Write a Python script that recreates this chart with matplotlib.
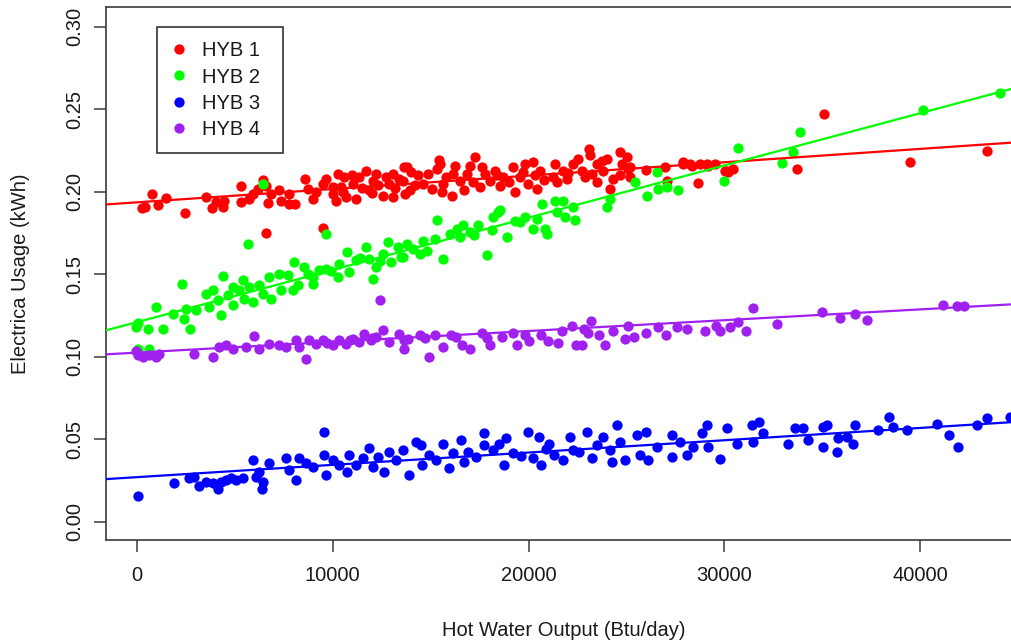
import matplotlib
matplotlib.use("Agg")
import matplotlib.pyplot as plt

plt.rcParams['font.family'] = ['Liberation Sans', 'DejaVu Sans']

series_names = ["HYB 1", "HYB 2", "HYB 3", "HYB 4"]
series_colors = ["#FF0000", "#00FF00", "#0000FF", "#A020F0"]

# Daily hot water output (Btu/day) and electrical usage (kWh) per unit
hyb1_x = [750, 430, 255, 1090, 1480, 2450, 3500, 3830, 4030, 4370, 4440, 5310, 5310,
          5910, 5720, 6160, 6450, 6590, 6670, 6840, 7270, 7350, 7780, 7780, 8080, 8600,
          8720, 8970, 9140, 9480, 9650, 9990, 10250, 10420, 10590, 10160, 10670, 11020,
          11180, 11350, 11700, 11860, 12040, 12210, 12550, 12880, 13060, 13390, 13650,
          13060, 13770, 13600, 13940, 13690, 14370, 14620, 14880, 15050, 15300, 15440,
          15470, 15640, 15560, 16070, 16160, 16240, 16500, 16840, 17010, 17260, 17180,
          17520, 17770, 18030, 18280, 18540, 18710, 19220, 19300, 19560, 19810, 19980,
          20240, 20330, 20410, 20580, 21260, 21350, 21430, 21770, 21940, 22280, 22540,
          22710, 22880, 23100, 23130, 23220, 23470, 23730, 23810, 24150, 24320, 24670,
          24750, 25010, 25180, 25180, 26960, 27900, 28240, 28670, 29090, 27050, 6590,
          9480, 28750, 29180, 30030, 30200, 30450, 33690, 35100, 39480, 43390, 27900,
          28330, 25090, 24670, 29520, 30110, 10000, 10500, 11000, 11500, 12000, 12300,
          12700, 13200, 14000, 14200, 15800, 16700, 17600, 18400, 19000, 19700, 20800,
          22000, 23500, 24000, 26000]
hyb1_y = [0.1987, 0.1906, 0.1900, 0.1916, 0.1964, 0.1870, 0.1970, 0.1898, 0.1936, 0.1906,
          0.1946, 0.2037, 0.1940, 0.1987, 0.1958, 0.2017, 0.2070, 0.2037, 0.1930, 0.1987,
          0.2007, 0.1946, 0.1987, 0.1926, 0.1922, 0.2077, 0.2017, 0.1956, 0.1996, 0.2047,
          0.2077, 0.1987, 0.2108, 0.2027, 0.2087, 0.1946, 0.1966, 0.2047, 0.1956, 0.2087,
          0.2128, 0.2007, 0.2067, 0.2108, 0.1976, 0.2047, 0.1966, 0.2077, 0.2148, 0.2108,
          0.2148, 0.2067, 0.2007, 0.1987, 0.2098, 0.2047, 0.2108, 0.2017, 0.2138, 0.2192,
          0.2168, 0.2047, 0.1996, 0.1976, 0.2108, 0.2158, 0.2067, 0.2108, 0.2158, 0.2208,
          0.2057, 0.2027, 0.2108, 0.2067, 0.2128, 0.2037, 0.2087, 0.2148, 0.1996, 0.2087,
          0.2168, 0.2047, 0.2178, 0.2098, 0.2017, 0.2128, 0.2087, 0.2168, 0.2057, 0.2128,
          0.2077, 0.2168, 0.2198, 0.2128, 0.2087, 0.2259, 0.2219, 0.2108, 0.2168, 0.2188,
          0.2128, 0.2017, 0.2077, 0.2239, 0.2168, 0.2208, 0.2148, 0.2087, 0.2152, 0.2168,
          0.2168, 0.2051, 0.2168, 0.2067, 0.1748, 0.1781, 0.2168, 0.2158, 0.2128, 0.2118,
          0.2138, 0.2138, 0.2471, 0.2178, 0.2249, 0.2178, 0.2158, 0.2138, 0.2098, 0.2168,
          0.2128, 0.2030, 0.2000, 0.2100, 0.2020, 0.1990, 0.2040, 0.2090, 0.2020, 0.2120,
          0.2040, 0.2090, 0.2010, 0.2150, 0.2100, 0.2060, 0.2120, 0.2070, 0.2110, 0.2060,
          0.2200, 0.2130]

hyb2_x = [30, -50, 550, 970, 1310, 1820, 2300, 2500, 2420, 2710, 3010, 3520, 3860, 3690,
          4120, 4380, 4290, 4630, 4890, 4890, 5230, 5400, 5480, 5650, 5730, 5910, 6250,
          6420, 6760, 6850, 7270, 7350, 7700, 8030, 7950, 8210, 8540, 8720, 8970, 9310,
          9650, 10250, 10330, 10750, 10840, 11180, 11700, 11860, 12040, 12210, 12550,
          12800, 12970, 13310, 13480, 6450, 9650, 35, 630, 13770, 14110, 14450, 13600,
          14790, 15300, 15220, 15640, 15990, 16330, 16500, 16670, 17010, 17430, 17860,
          18110, 18200, 18450, 18880, 18540, 19560, 19810, 20240, 20410, 20670, 20840,
          20920, 21350, 21430, 21770, 21860, 22280, 22370, 23990, 24150, 25430, 26030,
          26540, 26620, 27050, 27640, 29990, 30670, 32920, 33510, 33860, 40160, 44070,
          9000, 9900, 11400, 12400, 14600, 17200, 19300]
hyb2_y = [0.1206, 0.1179, 0.1169, 0.1300, 0.1169, 0.1260, 0.1442, 0.1290, 0.1230, 0.1169,
          0.1280, 0.1377, 0.1401, 0.1300, 0.1341, 0.1486, 0.1250, 0.1371, 0.1311, 0.1421,
          0.1401, 0.1462, 0.1351, 0.1684, 0.1421, 0.1331, 0.1432, 0.1381, 0.1482, 0.1351,
          0.1502, 0.1401, 0.1492, 0.1573, 0.1401, 0.1432, 0.1542, 0.1502, 0.1442, 0.1522,
          0.1533, 0.1482, 0.1563, 0.1633, 0.1512, 0.1583, 0.1663, 0.1593, 0.1472, 0.1542,
          0.1623, 0.1694, 0.1573, 0.1663, 0.1603, 0.2049, 0.1745, 0.1048, 0.1048, 0.1684,
          0.1654, 0.1623, 0.1603, 0.1643, 0.1825, 0.1714, 0.1593, 0.1745, 0.1775, 0.1724,
          0.1795, 0.1754, 0.1795, 0.1613, 0.1765, 0.1845, 0.1875, 0.1724, 0.1886, 0.1815,
          0.1845, 0.1775, 0.1835, 0.1926, 0.1775, 0.1745, 0.1946, 0.1875, 0.1946, 0.1845,
          0.1906, 0.1825, 0.1906, 0.1956, 0.2057, 0.1976, 0.2118, 0.2017, 0.2027, 0.2007,
          0.2067, 0.2263, 0.2174, 0.2239, 0.2360, 0.2495, 0.2598,
          0.1480, 0.1520, 0.1600, 0.1580, 0.1700, 0.1740, 0.1820]

hyb3_x = [30, 1910, 2640, 2930, 3180, 3520, 3860, 4120, 4290, 4540, 4800, 5060, 5400,
          5910, 6080, 6250, 6420, 6390, 6760, 7610, 7780, 8120, 8290, 8630, 8970, 9570,
          9570, 9650, 9990, 10330, 10840, 10750, 11180, 11520, 11860, 12040, 12630, 12880,
          13230, 13570, 13900, 14240, 14500, 14580, 14920, 15260, 15610, 15950, 16120,
          16550, 16710, 17310, 17740, 17740, 18170, 18510, 18760, 18850, 19190, 19950,
          20210, 20550, 20640, 21060, 21310, 21770, 22110, 22280, 22960, 23220, 23470,
          23810, 24150, 24240, 24520, 24670, 24920, 25520, 25690, 25990, 26110, 26540,
          27310, 27310, 27730, 28070, 28410, 28840, 29090, 29180, 29790, 30120, 30630,
          31400, 31480, 31790, 31990, 33240, 33600, 34030, 34280, 35050, 35050, 35220,
          35730, 35820, 36240, 36580, 36670, 37860, 38400, 38630, 39310, 40840, 41480,
          41940, 42880, 43420, 44580, 12300, 16900, 19600, 20900, 22600]
hyb3_y = [0.0154, 0.0235, 0.0261, 0.0271, 0.0215, 0.0241, 0.0231, 0.0195, 0.0241, 0.0251,
          0.0261, 0.0251, 0.0261, 0.0372, 0.0271, 0.0302, 0.0241, 0.0195, 0.0356, 0.0383,
          0.0312, 0.0251, 0.0383, 0.0352, 0.0332, 0.0544, 0.0403, 0.0281, 0.0372, 0.0342,
          0.0403, 0.0302, 0.0342, 0.0383, 0.0443, 0.0332, 0.0302, 0.0423, 0.0372, 0.0433,
          0.0281, 0.0483, 0.0463, 0.0342, 0.0403, 0.0372, 0.0473, 0.0322, 0.0413, 0.0493,
          0.0362, 0.0392, 0.0534, 0.0463, 0.0433, 0.0473, 0.0342, 0.0504, 0.0413, 0.0544,
          0.0383, 0.0514, 0.0342, 0.0473, 0.0403, 0.0372, 0.0514, 0.0433, 0.0544, 0.0383,
          0.0463, 0.0514, 0.0433, 0.0362, 0.0584, 0.0483, 0.0372, 0.0524, 0.0403, 0.0544,
          0.0372, 0.0453, 0.0524, 0.0392, 0.0483, 0.0403, 0.0453, 0.0534, 0.0584, 0.0453,
          0.0377, 0.0564, 0.0473, 0.0584, 0.0483, 0.0604, 0.0534, 0.0473, 0.0564, 0.0564,
          0.0493, 0.0453, 0.0574, 0.0584, 0.0423, 0.0504, 0.0514, 0.0473, 0.0584, 0.0554,
          0.0634, 0.0574, 0.0554, 0.0594, 0.0524, 0.0453, 0.0584, 0.0625, 0.0634,
          0.0390, 0.0420, 0.0400, 0.0440, 0.0420]

hyb4_x = [-50, 30, 290, 630, 970, 1130, 2930, 3860, 4200, 4540, 4890, 5990, 5570, 6250,
          6760, 7270, 7610, 8120, 8290, 8630, 8800, 9140, 9480, 9990, 10330, 10670, 11020,
          11350, 11610, 11950, 12210, 12550, 12430, 12880, 13390, 13650, 13630, 13830,
          14430, 14930, 15230, 15630, 16030, 16620, 17020, 17620, 18020, 18620, 19220,
          19420, 20010, 20610, 21010, 21510, 21710, 22210, 22410, 22710, 22810, 23210,
          23010, 23600, 23900, 24300, 24900, 25100, 25400, 26000, 26600, 27000, 27590,
          28090, 28990, 29590, 29790, 30290, 30690, 31090, 31480, 32680, 34980, 35880,
          36670, 37270, 41160, 41860, 42260, 9700, 10900, 12000, 14700, 16300, 17900,
          19800]
hyb4_y = [0.1031, 0.1008, 0.0998, 0.1008, 0.0998, 0.1018, 0.1018, 0.0998, 0.1058, 0.1068,
          0.1048, 0.1125, 0.1058, 0.1048, 0.1079, 0.1068, 0.1058, 0.1099, 0.1058, 0.0988,
          0.1099, 0.1079, 0.1099, 0.1068, 0.1099, 0.1079, 0.1109, 0.1089, 0.1139, 0.1099,
          0.1119, 0.1159, 0.1341, 0.1089, 0.1139, 0.1099, 0.1047, 0.1106, 0.1129, 0.0999,
          0.1129, 0.1059, 0.1129, 0.1070, 0.1047, 0.1141, 0.1070, 0.1117, 0.1141, 0.1070,
          0.1094, 0.1129, 0.1094, 0.1082, 0.1153, 0.1188, 0.1070, 0.1070, 0.1165, 0.1217,
          0.1141, 0.1129, 0.1070, 0.1153, 0.1106, 0.1188, 0.1117, 0.1141, 0.1177, 0.1129,
          0.1177, 0.1165, 0.1153, 0.1188, 0.1153, 0.1177, 0.1212, 0.1153, 0.1295, 0.1200,
          0.1271, 0.1236, 0.1260, 0.1224, 0.1312, 0.1307, 0.1307, 0.1080, 0.1100, 0.1110,
          0.1110, 0.1120, 0.1110, 0.1130]

# Least-squares fit coefficients (intercept, slope) for each unit
fit_intercepts = [0.1935, 0.1209, 0.0269, 0.1024]
fit_slopes = [8.1e-7, 3.166e-6, 7.46e-7, 6.55e-7]

xs = [hyb1_x, hyb2_x, hyb3_x, hyb4_x]
ys = [hyb1_y, hyb2_y, hyb3_y, hyb4_y]

x_ticks = [0, 10000, 20000, 30000, 40000]
y_ticks = [0.00, 0.05, 0.10, 0.15, 0.20, 0.25, 0.30]

W, H = 1012, 644
fig = plt.figure(figsize=(W / 100, H / 100), dpi=100)
ax_l, ax_r, ax_t, ax_b = 106, 1022, 6.7, 540
ax = fig.add_axes([ax_l / W, 1 - ax_b / H, (ax_r - ax_l) / W, (ax_b - ax_t) / H])

xlim = (-1583, 45200)
ax.set_xlim(*xlim)
ax.set_ylim(-0.0112, 0.3121)

handles = []
for x, y, c, name in zip(xs, ys, series_colors, series_names):
    h, = ax.plot(x, y, linestyle='none', marker='o', markersize=7.4,
                 markerfacecolor=c, markeredgewidth=0, color=c, label=name, zorder=2)
    handles.append(h)

for b0, b1, c in zip(fit_intercepts, fit_slopes, series_colors):
    ax.plot(list(xlim), [b0 + b1 * xlim[0], b0 + b1 * xlim[1]], color=c,
            linewidth=1.6, zorder=3)

axis_color = '#3a3a3a'
text_color = '#1a1a1a'
for side in ['left', 'bottom', 'top']:
    ax.spines[side].set_color(axis_color)
    ax.spines[side].set_linewidth(1.2)
ax.spines['right'].set_visible(False)

ax.set_xticks(x_ticks)
ax.set_xticklabels([str(v) for v in x_ticks])
ax.set_yticks(y_ticks)
ax.set_yticklabels([f"{v:.2f}" for v in y_ticks])
ax.tick_params(axis='both', direction='out', length=8.6, width=1.1,
               color=axis_color, labelsize=14.5, labelcolor=text_color)
ax.tick_params(axis='x', pad=10.4)
ax.tick_params(axis='y', pad=7.4, labelrotation=90)
for lbl in ax.get_yticklabels():
    lbl.set_va('center')

ax.set_xlabel("Hot Water Output (Btu/day)", fontsize=14.5, color=text_color)
ax.xaxis.set_label_coords(0.5, (ax_b - 630) / (ax_b - ax_t))
ax.xaxis.label.set_va('center')
ax.set_ylabel("Electrica Usage (kWh)", fontsize=14.5, color=text_color)
ax.yaxis.set_label_coords((20 - ax_l) / (ax_r - ax_l), 0.5)
ax.yaxis.label.set_va('center')

aw, ah = ax_r - ax_l, ax_b - ax_t
leg = ax.legend(handles=handles, loc='upper left',
                bbox_to_anchor=((157 - ax_l) / aw, 1 - (153 - ax_t) / ah,
                                (283 - 157) / aw, (153 - 27) / ah),
                mode='expand', borderaxespad=0, fontsize=14.5, frameon=True,
                fancybox=False, edgecolor='#222222', framealpha=1,
                handlelength=0.76, handletextpad=0.77, borderpad=0.72,
                labelspacing=0.35, numpoints=1)
leg.get_frame().set_linewidth(1.1)
for t in leg.get_texts():
    t.set_color(text_color)

fig.savefig("out.png", dpi=100)
